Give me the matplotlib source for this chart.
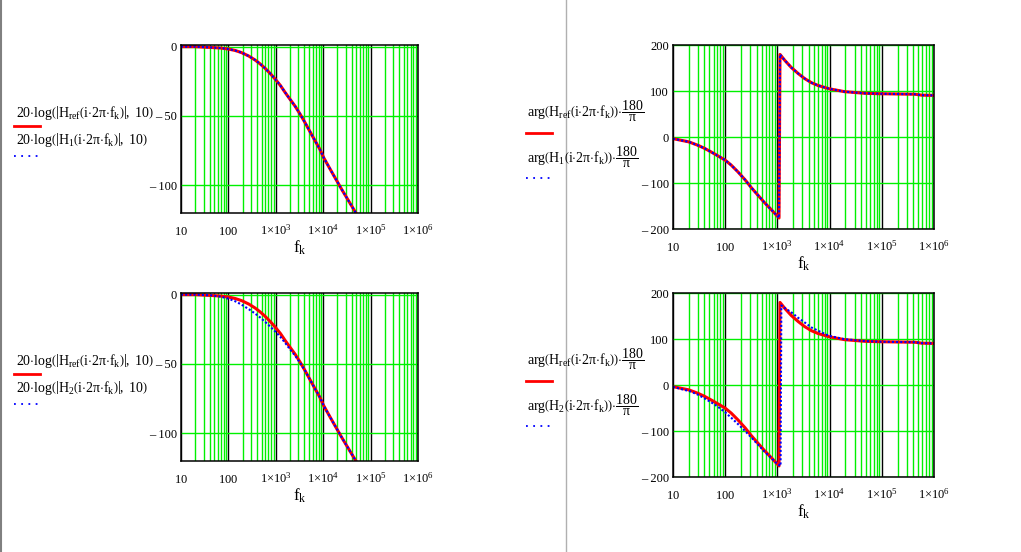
import matplotlib
matplotlib.use("Agg")
import matplotlib.pyplot as plt
from matplotlib.lines import Line2D
from matplotlib.ticker import FixedLocator, NullFormatter

plt.rcParams["font.family"] = ["Liberation Serif", "DejaVu Serif"]
plt.rcParams["mathtext.fontset"] = "custom"
plt.rcParams["mathtext.rm"] = "Liberation Serif"
plt.rcParams["mathtext.it"] = "Liberation Serif:italic"
plt.rcParams["mathtext.bf"] = "Liberation Serif:bold"

W, H = 1021, 552

# Magnitude, dB
mag_freq = [10, 20, 44, 70, 100, 140, 190, 270, 365, 470, 590, 760, 970,
            1250, 1570, 2000, 2560, 3300, 4170, 5300, 6760, 8500, 10200,
            15200, 24600, 48000, 52000]
mag_ref = [0, 0, -0.6, -1.0, -1.7, -2.8, -4.3, -6.8, -9.6, -12.5, -15.5,
           -19.3, -23.4, -28, -33, -38, -43, -49, -55, -61.5, -68, -74,
           -80, -90.5, -103, -119.5, -121.5]
mag_h1 = [0, 0, -0.6, -1.0, -1.7, -2.8, -4.3, -6.8, -9.6, -12.5, -15.5,
          -19.3, -23.4, -28, -33, -38, -43, -49, -55, -61.5, -68, -74,
          -80, -90.5, -103, -119.5, -121.5]
mag_h2 = [0, 0, -0.5, -1.5, -2.9, -4.8, -7.2, -10.5, -13.6, -16.5, -19.5,
          -23, -26.5, -30.5, -34.7, -39.5, -44, -49.5, -55, -61.5, -68, -74,
          -80, -90.5, -103, -119.5, -121.5]

# Phase, degrees
ph_freq = [10, 16.7, 20, 30, 40, 54, 70, 99, 130, 176, 240, 316, 420, 570,
           750, 998, 1074, 1122, 1400, 1850, 2500, 3330, 4500, 6000, 9700,
           19500, 47000, 98000, 200000, 430000, 575000, 1000000]
ph_ref = [-3.6, -8.7, -10.5, -18, -24.5, -32.6, -40, -50, -61, -76, -93,
          -110, -126, -143, -157, -172, -176, 179.5, 166, 151, 138, 127, 118,
          112, 105, 98.5, 95, 94, 93.5, 93, 91, 90.4]
ph_h1 = [-3.6, -8.7, -10.5, -18, -24.5, -32.6, -40, -50, -61, -76, -93,
         -110, -126, -143, -157, -172, -176, 179.5, 166, 151, 138, 127, 118,
         112, 105, 98.5, 95, 94, 93.5, 93, 91, 90.4]
ph2_freq = [10, 16.7, 20, 30, 40, 54, 70, 99, 130, 176, 240, 316, 420, 570,
            750, 998, 1150, 1190, 1400, 1850, 2500, 3330, 4500, 6000, 9700,
            19500, 47000, 98000, 200000, 430000, 575000, 1000000]
ph_h2 = [-4, -10.9, -12.5, -21, -29, -37.7, -46, -59, -71, -85, -100, -114,
         -129, -145, -158, -172, -176, 173, 167, 158, 146, 136, 125, 118, 107,
         99.5, 95.5, 94, 93.5, 93, 91, 90.4]

decades = [10, 100, 1e3, 1e4, 1e5, 1e6]
decade_labels = [r"$10$", r"$100$", r"$1{\times}10^{3}$",
                 r"$1{\times}10^{4}$", r"$1{\times}10^{5}$",
                 r"$1{\times}10^{6}$"]
minors = [m * d for d in [10, 100, 1e3, 1e4, 1e5] for m in range(2, 10)]

GREEN = "#00f000"
LABEL_SIZE = 10


def px(x, y):
    return x / W, 1 - y / H


def make_axes(fig, left, top, right, bottom):
    return fig.add_axes([left / W, 1 - bottom / H, (right - left) / W,
                         (bottom - top) / H])


def style_axes(ax, ylim, yticks):
    ax.set_xscale("log")
    ax.set_xlim(10, 1e6)
    ax.set_ylim(*ylim)
    ax.xaxis.set_major_locator(FixedLocator(decades))
    ax.xaxis.set_minor_locator(FixedLocator(minors))
    ax.xaxis.set_minor_formatter(NullFormatter())
    ax.set_xticklabels(decade_labels)
    ax.set_yticks(yticks)
    ax.set_yticklabels([str(t) if t >= 0 else "\u2013 {}".format(-t)
                        for t in yticks])
    ax.set_axisbelow(True)
    ax.grid(which="major", axis="x", color="black", linewidth=1.0)
    ax.grid(which="minor", axis="x", color=GREEN, linewidth=1.0)
    ax.grid(which="major", axis="y", color=GREEN, linewidth=1.0)
    ax.tick_params(which="both", length=0, labelsize=9)
    ax.tick_params(axis="x", pad=15.5)
    ax.tick_params(axis="y", pad=3)
    for lbl in ax.get_xticklabels():
        lbl.set_verticalalignment("baseline")
    for s in ax.spines.values():
        s.set_linewidth(1.1)
    ax.set_xlabel(r"$\mathrm{f_k}$", fontsize=12, labelpad=1)


def plot_pair(ax, x1, y1, x2, y2):
    ax.plot(x1, y1, color="red", linewidth=2.2, solid_capstyle="butt")
    ax.plot(x2, y2, color="blue", linewidth=1.5, linestyle=(0, (1, 1)))


def key(fig, x0, x1, y, solid):
    a, b = px(x0, y)
    c, _ = px(x1, y)
    if solid:
        ln = Line2D([a, c], [b, b], color="red", linewidth=2.0,
                    transform=fig.transFigure)
    else:
        ln = Line2D([a, c], [b, b], color="blue", linewidth=1.3,
                    linestyle=(0, (1, 3)), transform=fig.transFigure)
    fig.add_artist(ln)


def mag_label(name):
    return (r"$20{\cdot}\mathrm{log}\left(\left|\mathrm{H_{" + name +
            r"}}\left(\mathrm{i}{\cdot}2\mathrm{\pi}{\cdot}\mathrm{f_k}"
            r"\right)\right|,\ 10\right)$")


def arg_label(name):
    return (r"$\mathrm{arg}\left(\mathrm{H_{" + name +
            r"}}\left(\mathrm{i}{\cdot}2\mathrm{\pi}{\cdot}\mathrm{f_k}"
            r"\right)\right){\cdot}\dfrac{180}{\mathrm{\pi}}$")


fig = plt.figure(figsize=(W / 100, H / 100), dpi=100)

# page separators
fig.add_artist(Line2D([px(1, 0)[0]] * 2, [0, 1], color="#808080",
                      linewidth=1.5, transform=fig.transFigure))
fig.add_artist(Line2D([px(566, 0)[0]] * 2, [0, 1], color="#b0b0b0",
                      linewidth=1.0, transform=fig.transFigure))

for row, (name, mag_b, ph_fb, ph_b) in enumerate(
        [("1", mag_h1, ph_freq, ph_h1), ("2", mag_h2, ph2_freq, ph_h2)]):
    dy = 248 * row

    # magnitude
    ax = make_axes(fig, 181, 45 + dy, 418, 213 + dy)
    plot_pair(ax, mag_freq, mag_ref, mag_freq, mag_b)
    style_axes(ax, (-120, 1.2), [0, -50, -100])

    fig.text(*px(16, 113 + dy), mag_label("ref"), fontsize=LABEL_SIZE,
             ha="left", va="center")
    key(fig, 14, 40, 126 + dy, True)
    fig.text(*px(16, 140 + dy), mag_label(name), fontsize=LABEL_SIZE,
             ha="left", va="center")
    key(fig, 14, 40, 156 + dy, False)

    # phase
    ax = make_axes(fig, 673, 45 + dy, 934, 229 + dy)
    plot_pair(ax, ph_freq, ph_ref, ph_fb, ph_b)
    style_axes(ax, (-200, 200), [200, 100, 0, -100, -200])

    fig.text(*px(527, 111 + dy), arg_label("ref"), fontsize=LABEL_SIZE,
             ha="left", va="center")
    key(fig, 526, 552, 133 + dy, True)
    fig.text(*px(527, 157 + dy), arg_label(name), fontsize=LABEL_SIZE,
             ha="left", va="center")
    key(fig, 526, 551, 178 + dy, False)

fig.savefig("out.png", dpi=100)
